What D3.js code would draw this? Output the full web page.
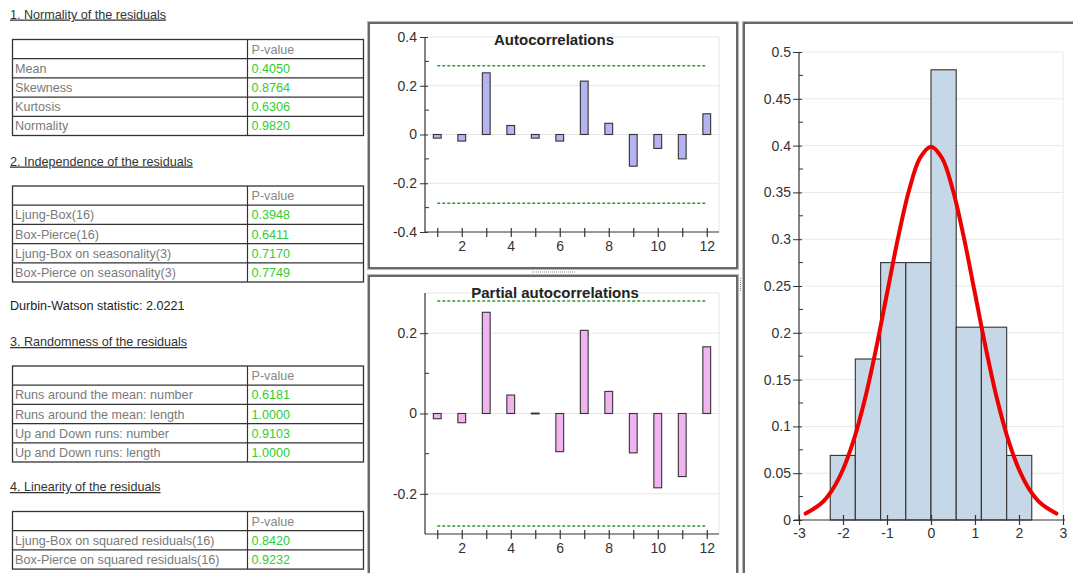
<!DOCTYPE html>
<html><head><meta charset="utf-8">
<script src="https://cdn.jsdelivr.net/npm/d3@7/dist/d3.min.js"></script>
<style>body{margin:0;background:#fff}svg{display:block;font-family:"Liberation Sans",Arial,sans-serif}</style>
</head><body><svg id="c" width="1073" height="573"></svg>
<script>
// ---------- data ----------
const lags = [1,2,3,4,5,6,7,8,9,10,11,12];
const acfValues = [-0.015,-0.027,0.253,0.037,-0.015,-0.027,0.219,0.046,-0.130,-0.057,-0.100,0.085];
const pacfValues = [-0.013,-0.023,0.252,0.046,0.001,-0.095,0.207,0.055,-0.098,-0.185,-0.157,0.166];
const acfBound = 0.282;
const pacfBound = 0.28;
const acfTicks = [-0.4,-0.2,0,0.2,0.4];
const pacfTicks = [-0.2,0,0.2];
const lagLabels = [2,4,6,8,10,12];
const histEdges = [-2.29,-1.72,-1.145,-0.573,0,0.573,1.145,1.72,2.29];
const histDensity = [0.069,0.172,0.275,0.275,0.481,0.206,0.206,0.069];
const curveX = [-2.85,-2.5,-2.25,-2,-1.75,-1.5,-1.25,-1,-0.75,-0.5,-0.25,0,0.25,0.5,0.75,1,1.25,1.5,1.75,2,2.25,2.5,2.85];
const curveY = [0.0069,0.0175,0.0317,0.054,0.0863,0.1295,0.1826,0.242,0.3011,0.3521,0.3867,0.3989,0.3867,0.3521,0.3011,0.242,0.1826,0.1295,0.0863,0.054,0.0317,0.0175,0.0069];
const histYTicks = [0,0.05,0.1,0.15,0.2,0.25,0.3,0.35,0.4,0.45,0.5];
const histXTicks = [-3,-2,-1,0,1,2,3];

const sections = [
  {title:"1. Normality of the residuals", rows:[["Mean","0.4050"],["Skewness","0.8764"],["Kurtosis","0.6306"],["Normality","0.9820"]]},
  {title:"2. Independence of the residuals", rows:[["Ljung-Box(16)","0.3948"],["Box-Pierce(16)","0.6411"],["Ljung-Box on seasonality(3)","0.7170"],["Box-Pierce on seasonality(3)","0.7749"]]},
  {title:"3. Randomness of the residuals", rows:[["Runs around the mean: number","0.6181"],["Runs around the mean: length","1.0000"],["Up and Down runs: number","0.9103"],["Up and Down runs: length","1.0000"]]},
  {title:"4. Linearity of the residuals", rows:[["Ljung-Box on squared residuals(16)","0.8420"],["Box-Pierce on squared residuals(16)","0.9232"]]}
];
const durbinText = "Durbin-Watson statistic: 2.0221";
const headerLabel = "P-value";

// ---------- layout ----------
const svg = d3.select("#c");
const FONT = "Liberation Sans, Arial, sans-serif";
const titleY = [14, 161, 341.5, 486.5];
const tableTop = [39.5, 186, 366, 511.5];
const rowH = 19.2, tX0 = 12.5, tX1 = 363.5, tXdiv = 247.5;
const TS = "12.6px";

sections.forEach((s,i)=>{
  svg.append("text").attr("x",10).attr("y",titleY[i]+4.5).style("font-size",TS)
    .attr("fill","#333").attr("text-decoration","underline").text(s.title);
  const g = svg.append("g");
  const n = s.rows.length + 1;
  const top = tableTop[i];
  g.append("rect").attr("x",tX0).attr("y",top).attr("width",tX1-tX0).attr("height",n*rowH)
    .attr("fill","#fff").attr("stroke","#333").attr("stroke-width",1.3);
  for(let r=1;r<n;r++) g.append("line").attr("x1",tX0).attr("x2",tX1)
    .attr("y1",top+r*rowH).attr("y2",top+r*rowH).attr("stroke","#333").attr("stroke-width",1.2);
  g.append("line").attr("x1",tXdiv).attr("x2",tXdiv).attr("y1",top).attr("y2",top+n*rowH)
    .attr("stroke","#333").attr("stroke-width",1.2);
  g.append("text").attr("x",251.5).attr("y",top+rowH/2+4.5).style("font-size",TS).attr("fill","#888").text(headerLabel);
  s.rows.forEach((row,r)=>{
    const cy = top+(r+1)*rowH+rowH/2+4.5;
    g.append("text").attr("x",15).attr("y",cy).style("font-size",TS).attr("fill","#7a7a7a").text(row[0]);
    g.append("text").attr("x",251.5).attr("y",cy).style("font-size",TS).attr("fill","#33cc33").text(row[1]);
  });
});
svg.append("text").attr("x",10).attr("y",309.5).style("font-size",TS).attr("fill","#222").text(durbinText);

// ---------- panel frames ----------
function frame(x0,y0,x1,y1){
  svg.append("rect").attr("x",x0-1.5).attr("y",y0-1.5).attr("width",x1-x0+3).attr("height",y1-y0+3)
    .attr("fill","none").attr("stroke","#b8b8b8").attr("stroke-width",1);
  svg.append("rect").attr("x",x0).attr("y",y0).attr("width",x1-x0).attr("height",y1-y0)
    .attr("fill","#fff").attr("stroke","#444").attr("stroke-width",1.6);
}
frame(369,23,737,268);
frame(369,276,737,576);
frame(744,23,1076,576);
svg.append("line").attr("x1",532).attr("x2",576).attr("y1",272).attr("y2",272)
  .attr("stroke","#888").attr("stroke-dasharray","1,1");
svg.append("line").attr("x1",740.5).attr("x2",740.5).attr("y1",278).attr("y2",292)
  .attr("stroke","#888").attr("stroke-dasharray","1,1");

const numFmt = d => d===0 ? "0" : String(+d.toFixed(3));

// ---------- correlogram ----------
function correlogram(opt){
  const x = d3.scaleLinear().domain([0.5,12.5]).range([425,719]);
  const y = d3.scaleLinear().domain(opt.domain).range(opt.range);
  const g = svg.append("g");
  g.selectAll(".gl").data(opt.grid).join("line").attr("x1",425).attr("x2",719)
    .attr("y1",d=>y(d)).attr("y2",d=>y(d)).attr("stroke","#e6e6e6");
  g.append("line").attr("x1",719).attr("x2",719).attr("y1",y(opt.domain[1])).attr("y2",y(opt.domain[0])).attr("stroke","#e6e6e6");
  [opt.bound,-opt.bound].forEach(b=>g.append("line").attr("x1",x(1)).attr("x2",x(12))
    .attr("y1",y(b)).attr("y2",y(b)).attr("stroke","#2e9b2e").attr("stroke-width",1.5).attr("stroke-dasharray","3,2"));
  g.selectAll(".bar").data(lags).join("rect")
    .attr("x",d=>x(d)-3.9).attr("width",7.8)
    .attr("y",(d,i)=>y(Math.max(0,opt.values[i])))
    .attr("height",(d,i)=>Math.max(0.8,Math.abs(y(opt.values[i])-y(0))))
    .attr("fill",opt.fill).attr("stroke","#333").attr("stroke-width",1.1);
  const ya = g.append("g").attr("transform","translate(425,0)")
    .call(d3.axisLeft(y).tickValues(opt.ticks).tickSize(5).tickFormat(numFmt));
  ya.select(".domain").remove();
  ya.selectAll(".tick line").attr("x2",-5).attr("x1",3).attr("stroke","#333");
  ya.selectAll(".tick text").style("font-size","14px").style("font-family",FONT).attr("fill","#333").attr("x",-8);
  g.selectAll(".minor").data(opt.minor).join("line").attr("x1",425).attr("x2",429)
    .attr("y1",d=>y(d)).attr("y2",d=>y(d)).attr("stroke","#333");
  g.append("line").attr("x1",425).attr("x2",425).attr("y1",y(opt.domain[1])).attr("y2",y(opt.domain[0])).attr("stroke","#333").attr("stroke-width",1.2);
  const by = y(opt.domain[0]);
  g.append("line").attr("x1",425).attr("x2",719).attr("y1",by).attr("y2",by).attr("stroke","#333").attr("stroke-width",1.2);
  const xa = g.append("g").attr("transform",`translate(0,${by})`)
    .call(d3.axisBottom(x).tickValues(lags).tickSize(4).tickFormat(d=>lagLabels.includes(d)?String(d):""));
  xa.select(".domain").remove();
  xa.selectAll(".tick line").attr("y1",-4).attr("y2",5).attr("stroke","#333").attr("stroke-width",1.2);
  xa.selectAll(".tick text").style("font-size","14px").style("font-family",FONT).attr("fill","#333").attr("y",9);
  g.append("text").attr("x",opt.titleX).attr("y",opt.titleY).attr("text-anchor","middle")
    .style("font-size","15px").attr("font-weight","bold").attr("fill","#222").text(opt.title);
}
correlogram({domain:[-0.4,0.4],range:[232,37],values:acfValues,bound:acfBound,ticks:acfTicks,
  minor:[-0.3,-0.1,0.1,0.3],grid:[-0.2,0,0.2,0.4],fill:"#b4b4f2",title:"Autocorrelations",titleX:554,titleY:45});
correlogram({domain:[-0.3,0.3],range:[534,293],values:pacfValues,bound:pacfBound,ticks:pacfTicks,
  minor:[-0.1,0.1],grid:[-0.2,0,0.2,0.3],fill:"#f2b4f0",title:"Partial autocorrelations",titleX:555,titleY:298});

// ---------- histogram ----------
(function(){
  const x = d3.scaleLinear().domain([-3,3]).range([799,1063]);
  const y = d3.scaleLinear().domain([0,0.5]).range([520,52]);
  const g = svg.append("g");
  g.selectAll(".gl").data(histYTicks.slice(1)).join("line").attr("x1",799).attr("x2",1063)
    .attr("y1",d=>y(d)).attr("y2",d=>y(d)).attr("stroke","#e8e8e8");
  g.append("line").attr("x1",1063).attr("x2",1063).attr("y1",y(0.5)).attr("y2",y(0)).attr("stroke","#e8e8e8");
  g.selectAll(".hb").data(histDensity).join("rect")
    .attr("x",(d,i)=>x(histEdges[i])).attr("width",(d,i)=>x(histEdges[i+1])-x(histEdges[i]))
    .attr("y",d=>y(d)).attr("height",d=>y(0)-y(d))
    .attr("fill","#c6d7e7").attr("stroke","#333").attr("stroke-width",1.1);
  const line = d3.line().x(d=>x(d[0])).y(d=>y(d[1])).curve(d3.curveCatmullRom);
  g.append("path").datum(curveX.map((v,i)=>[v,curveY[i]])).attr("d",line)
    .attr("fill","none").attr("stroke","#ee0000").attr("stroke-width",4).attr("stroke-linecap","round");
  const ya = g.append("g").attr("transform","translate(799,0)")
    .call(d3.axisLeft(y).tickValues(histYTicks).tickSize(5).tickFormat(numFmt));
  ya.select(".domain").remove();
  ya.selectAll(".tick line").attr("x2",-6).attr("x1",3).attr("stroke","#333");
  ya.selectAll(".tick text").style("font-size","14px").style("font-family",FONT).attr("fill","#333").attr("x",-8);
  const minors = histYTicks.slice(0,-1).map(d=>d+0.025);
  g.selectAll(".mn").data(minors).join("line").attr("x1",799).attr("x2",803)
    .attr("y1",d=>y(d)).attr("y2",d=>y(d)).attr("stroke","#333");
  g.append("line").attr("x1",799).attr("x2",799).attr("y1",y(0.5)).attr("y2",y(0)).attr("stroke","#333").attr("stroke-width",1.2);
  g.append("line").attr("x1",794).attr("x2",1065).attr("y1",y(0)).attr("y2",y(0)).attr("stroke","#333").attr("stroke-width",1.2);
  const xa = g.append("g").attr("transform",`translate(0,${y(0)})`)
    .call(d3.axisBottom(x).tickValues(histXTicks).tickSize(5).tickFormat(d=>String(d)));
  xa.select(".domain").remove();
  xa.selectAll(".tick line").attr("y1",-5).attr("y2",5).attr("stroke","#333").attr("stroke-width",1.2);
  xa.selectAll(".tick text").style("font-size","14px").style("font-family",FONT).attr("fill","#333").attr("y",8);
})();
</script></body></html>
